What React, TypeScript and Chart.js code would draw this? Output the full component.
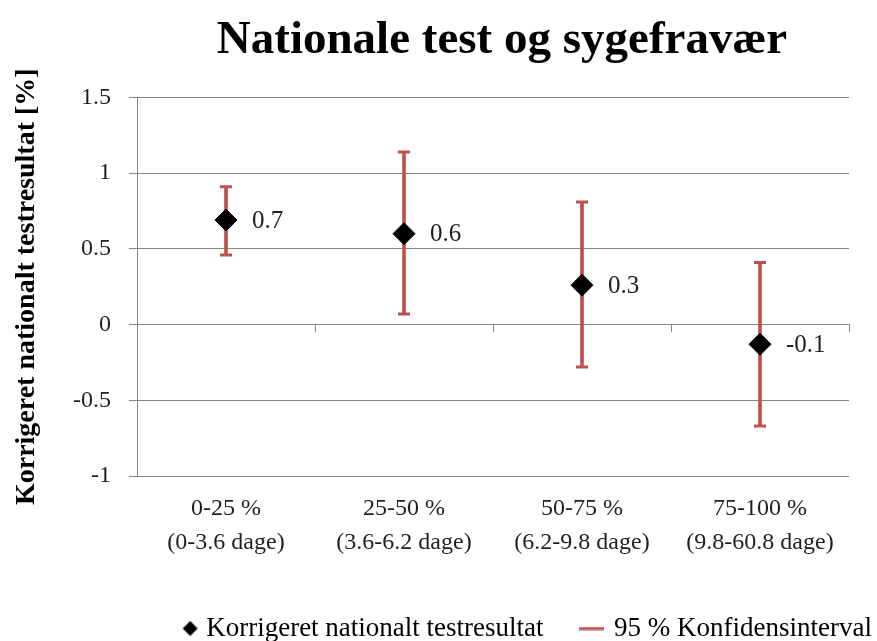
import React, { useEffect, useRef } from 'react';
import { Chart, registerables } from 'chart.js';

Chart.register(...registerables);

const chartTitle = 'Nationale test og sygefravær';
const yAxisTitle = 'Korrigeret nationalt testresultat [%]';
const categories: string[][] = [
  ['0-25 %', '(0-3.6 dage)'],
  ['25-50 %', '(3.6-6.2 dage)'],
  ['50-75 %', '(6.2-9.8 dage)'],
  ['75-100 %', '(9.8-60.8 dage)'],
];
const testResult = [0.69, 0.6, 0.26, -0.13];
const ciLow = [0.46, 0.07, -0.28, -0.67];
const ciHigh = [0.91, 1.14, 0.81, 0.41];
const yMin = -1;
const yMax = 1.5;
const yStep = 0.5;
const seriesName = 'Korrigeret nationalt testresultat';
const ciName = '95 % Konfidensinterval';

const FONT = "'Liberation Serif', 'DejaVu Serif', serif";
const RED = '#C0504D';
const GRID = '#868686';
const TEXT = '#1f1f1f';

const valueLabels = {
  id: 'valueLabels',
  afterDatasetsDraw(chart: any) {
    const meta = chart.getDatasetMeta(0);
    const ctx = chart.ctx;
    ctx.save();
    ctx.font = `25px ${FONT}`;
    ctx.fillStyle = TEXT;
    ctx.textAlign = 'left';
    ctx.textBaseline = 'middle';
    meta.data.forEach((pt: any, i: number) => {
      ctx.fillText(testResult[i].toFixed(1), pt.x + 26, pt.y + 1);
    });
    ctx.restore();
  },
};

// Nudge the title and legend boxes horizontally to follow the reference layout.
const boxShift = {
  id: 'boxShift',
  afterLayout(chart: any) {
    const t = chart.titleBlock;
    if (t) {
      t.left += 9;
      t.right += 9;
    }
    const lg = chart.legend;
    if (lg) {
      const pad = lg.options.labels.padding;
      const d = chart.width - 5 + pad - lg.right;
      lg.left += d;
      lg.right += d;
    }
  },
};

function makeLegendDiamond(): HTMLCanvasElement {
  // diamond sits at the right of a wider transparent canvas so it hugs its label
  const c = document.createElement('canvas');
  c.width = 30;
  c.height = 16;
  const g = c.getContext('2d')!;
  g.fillStyle = '#000';
  g.beginPath();
  g.moveTo(21.5, 0.5);
  g.lineTo(29, 8);
  g.lineTo(21.5, 15.5);
  g.lineTo(14, 8);
  g.closePath();
  g.fill();
  return c;
}

function makeLegendLine(): HTMLCanvasElement {
  const c = document.createElement('canvas');
  c.width = 25;
  c.height = 4;
  const g = c.getContext('2d')!;
  g.fillStyle = RED;
  g.fillRect(0, 0.5, 25, 3);
  return c;
}

export default function App() {
  const ref = useRef<HTMLCanvasElement | null>(null);

  useEffect(() => {
    document.body.style.margin = '0';
    const canvas = ref.current;
    if (!canvas) return;
    const legendDiamond = makeLegendDiamond();
    const legendLine = makeLegendLine();
    const chart = new Chart(canvas, {
      type: 'bar',
      data: {
        labels: categories,
        datasets: [
          {
            type: 'line',
            label: seriesName,
            data: testResult,
            showLine: false,
            pointStyle: 'rectRot',
            pointRadius: 11,
            pointBorderWidth: 1,
            pointBackgroundColor: '#000',
            pointBorderColor: '#000',
            borderColor: '#000',
            backgroundColor: '#000',
            order: 0,
            xAxisID: 'x',
            yAxisID: 'y',
          } as any,
          {
            type: 'bar',
            label: ciName,
            data: ciLow.map((lo, i) => [lo, ciHigh[i]]),
            backgroundColor: RED,
            borderWidth: 0,
            borderSkipped: false,
            barThickness: 3,
            order: 3,
            xAxisID: 'x',
            yAxisID: 'y',
          } as any,
          {
            type: 'line',
            label: 'ciHighCap',
            data: ciHigh,
            showLine: false,
            pointStyle: 'line',
            pointRadius: 6,
            pointBorderWidth: 3,
            pointBorderColor: RED,
            borderColor: RED,
            order: 2,
            xAxisID: 'x',
            yAxisID: 'y',
          } as any,
          {
            type: 'line',
            label: 'ciLowCap',
            data: ciLow,
            showLine: false,
            pointStyle: 'line',
            pointRadius: 6,
            pointBorderWidth: 3,
            pointBorderColor: RED,
            borderColor: RED,
            order: 2,
            xAxisID: 'x',
            yAxisID: 'y',
          } as any,
        ],
      },
      options: {
        responsive: false,
        animation: false,
        events: [],
        layout: { padding: { left: 4, right: 28, top: 0, bottom: -11 } },
        scales: {
          x: {
            type: 'category',
            offset: true,
            grid: { display: false, drawTicks: false },
            border: { display: false },
            ticks: {
              font: { family: FONT, size: 24, lineHeight: 1.42 },
              color: TEXT,
              padding: 16,
              maxRotation: 0,
              autoSkip: false,
            },
            afterFit: (s: any) => {
              s.height = 100;
            },
          },
          x0: {
            type: 'category',
            axis: 'x',
            position: { y: 0 },
            offset: true,
            grid: {
              offset: true,
              drawOnChartArea: false,
              drawTicks: true,
              tickLength: 7,
              color: GRID,
            },
            border: { color: GRID, width: 1 },
            ticks: { display: false },
          },
          y: {
            type: 'linear',
            min: yMin,
            max: yMax,
            ticks: {
              stepSize: yStep,
              font: { family: FONT, size: 24 },
              color: TEXT,
              padding: 18,
              callback: (v: any) => String(+Number(v).toFixed(2)),
            },
            grid: { color: GRID, tickLength: 8 },
            border: { color: GRID },
            title: {
              display: true,
              text: yAxisTitle,
              font: { family: FONT, size: 28, weight: 'bold' },
              color: '#000',
              padding: { top: 6, bottom: 4 },
            },
            afterFit: (s: any) => {
              s.width = 133;
            },
          },
        } as any,
        plugins: {
          title: {
            display: true,
            text: chartTitle,
            fullSize: false,
            font: { family: FONT, size: 47, weight: 'bold' },
            color: '#000',
            padding: { top: 13, bottom: 28 },
          },
          legend: {
            display: true,
            position: 'bottom',
            fullSize: true,
            align: 'end',
            labels: {
              usePointStyle: true,
              pointStyleWidth: 18,
              boxHeight: 11,
              padding: 39,
              color: '#000',
              font: { family: FONT, size: 27 },
              generateLabels: (c: any) => {
                const items = (Chart.defaults.plugins.legend.labels as any).generateLabels(c);
                return items
                  .filter((it: any) => it.datasetIndex === 0 || it.datasetIndex === 1)
                  .map((it: any) =>
                    it.datasetIndex === 0
                      ? { ...it, pointStyle: legendDiamond, fillStyle: '#000', strokeStyle: '#000', lineWidth: 0 }
                      : { ...it, pointStyle: legendLine, fillStyle: RED, strokeStyle: RED, lineWidth: 0 }
                  );
              },
            },
          },
          tooltip: { enabled: false },
        },
      },
      plugins: [valueLabels, boxShift],
    } as any);
    return () => chart.destroy();
  }, []);

  return (
    <div style={{ position: 'fixed', left: 0, top: 0, width: 877, height: 641, background: '#fff' }}>
      <canvas ref={ref} width={877} height={641} style={{ display: 'block', width: 877, height: 641 }} />
    </div>
  );
}
